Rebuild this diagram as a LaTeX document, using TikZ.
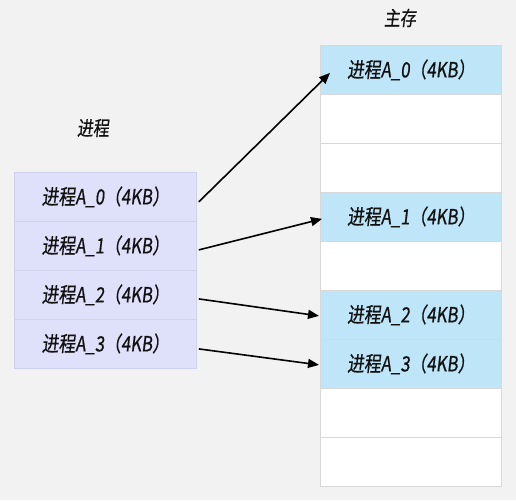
\documentclass[tikz,border=0pt]{standalone}
\usepackage{fontspec}
\setmainfont{Noto Sans CJK SC}[FakeSlant=0.12,FakeStretch=0.8,FakeBold=0.6]
\usetikzlibrary{arrows.meta}
\definecolor{bg}{HTML}{F2F2F2}
\definecolor{lav}{HTML}{DFE0FA}
\definecolor{lavline}{HTML}{CFD0EC}
\definecolor{mem}{HTML}{BEE5F8}
\definecolor{memline}{HTML}{D8D8D8}
\definecolor{ink}{HTML}{111111}
\tikzset{
  procbox/.style={draw=lavline, line width=0.8pt, fill=lav, minimum width=182pt, minimum height=49pt, inner sep=0pt, anchor=north west, text=ink, font=\fontsize{21}{22}\selectfont},
  memcell/.style={draw=memline, line width=0.8pt, fill=white, minimum width=181pt, minimum height=49pt, inner sep=0pt, anchor=north west, text=ink, font=\fontsize{21}{22}\selectfont},
  used/.style={fill=mem},
  title/.style={text=ink, font=\fontsize{20}{22}\selectfont},
  conn/.style={-{Triangle[length=11pt,width=9pt]}, line width=1.6pt, black}
}
\begin{document}
\begin{tikzpicture}[x=1pt,y=-1pt]
\fill[bg] (0,0) rectangle (516,500);
\useasboundingbox (0,0) rectangle (516,500);
\node[title] (t1) at (400,18) {主存};
\node[title] (t2) at (93,128) {进程};
\node[procbox] (l0) at (14,172) {进程A\_0（4KB）};
\node[procbox] (l1) at (14,221) {进程A\_1（4KB）};
\node[procbox] (l2) at (14,270) {进程A\_2（4KB）};
\node[procbox] (l3) at (14,319) {进程A\_3（4KB）};
\node[memcell,used] (r0) at (320,45) {进程A\_0（4KB）};
\node[memcell] (r1) at (320,94) {};
\node[memcell] (r2) at (320,143) {};
\node[memcell,used] (r3) at (320,192) {进程A\_1（4KB）};
\node[memcell] (r4) at (320,241) {};
\node[memcell,used] (r5) at (320,290) {进程A\_2（4KB）};
\node[memcell,used] (r6) at (320,339) {进程A\_3（4KB）};
\node[memcell] (r7) at (320,388) {};
\node[memcell] (r8) at (320,437) {};
\draw[conn] ([xshift=2pt,yshift=-5pt]l0.east) -- ([xshift=10pt,yshift=-3pt]r0.west);
\draw[conn] ([xshift=2pt,yshift=-4pt]l1.east) -- ([xshift=2pt,yshift=-2pt]r3.west);
\draw[conn] ([xshift=2pt,yshift=-4pt]l2.east) -- ([xshift=-1pt,yshift=-1pt]r5.west);
\draw[conn] ([xshift=2pt,yshift=-5pt]l3.east) -- ([xshift=-1pt,yshift=-1pt]r6.west);
\end{tikzpicture}
\end{document}
